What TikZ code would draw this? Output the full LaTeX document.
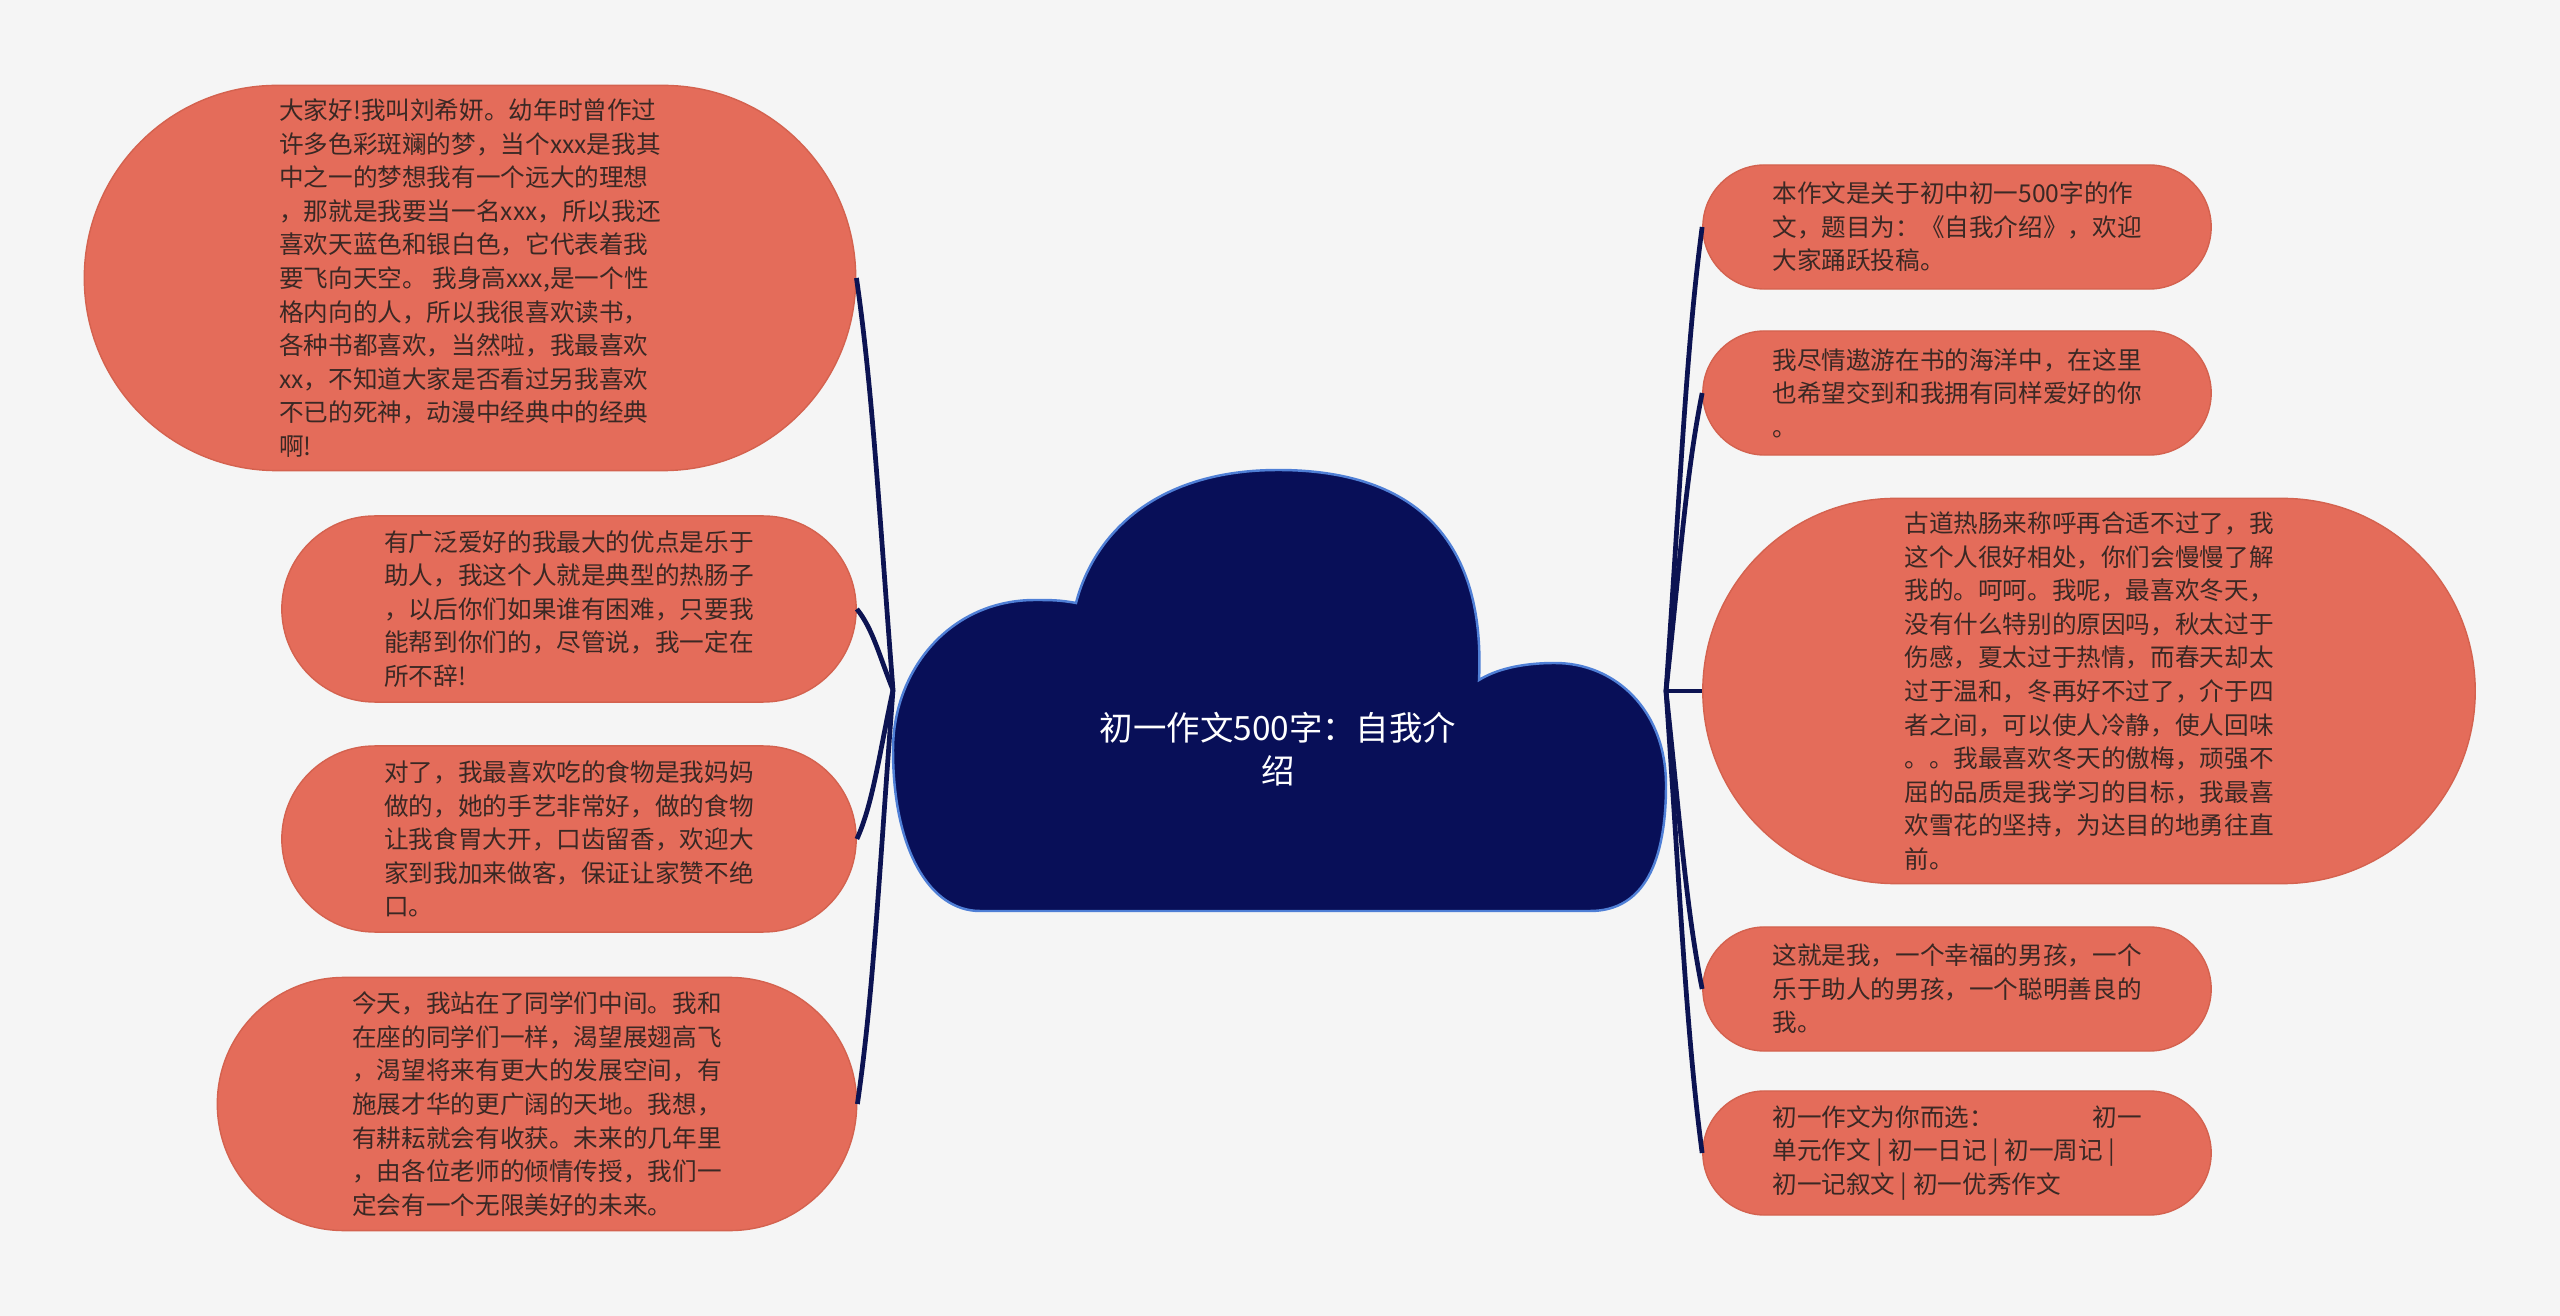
\documentclass[tikz,border=0pt]{standalone}
\usepackage{fontspec}
\usepackage{xcolor}
\usetikzlibrary{shapes.misc,calc}
\newfontfamily\cjkfont{Noto Sans CJK SC}
\definecolor{pagegrey}{HTML}{F5F5F5}
\definecolor{cloudnavy}{HTML}{080F58}
\definecolor{cloudrim}{HTML}{4F7FD6}
\definecolor{leafcoral}{HTML}{E46C5A}
\definecolor{leafrim}{HTML}{D4624F}
\definecolor{leafink}{HTML}{3A2824}
\definecolor{branchnavy}{HTML}{0C1352}
\tikzset{
  leaf/.style={rounded rectangle,fill=leafcoral,draw=leafrim,line width=0.4pt,
    inner sep=0pt,align=left,text=leafink,font=\cjkfont\fontsize{7}{9.55}\selectfont},
  branch/.style={branchnavy,line width=1.35pt},
}

\begin{document}
\begin{tikzpicture}[x=0.01cm,y=-0.01cm]
\useasboundingbox (0,0) rectangle (2560,1316);
\fill[pagegrey] (0,0) rectangle (2560,1316);

% centre cloud
\draw[cloudrim,fill=cloudnavy,line width=0.7pt] (980,911) -- (1590,911)
  .. controls (1645,911) and (1666,860) .. (1666,785)
  .. controls (1666,710) and (1615,663) .. (1555,663)
  .. controls (1520,663) and (1495,670) .. (1479,680)
  .. controls (1485,555) and (1430,470) .. (1278,470)
  .. controls (1160,470) and (1095,530) .. (1076,603)
  .. controls (1060,600) and (1050,600) .. (1035,600)
  .. controls (950,600) and (893,670) .. (893,750)
  .. controls (893,850) and (930,911) .. (980,911) -- cycle;
\node[text=white,align=center,font=\cjkfont\fontsize{9.5}{12.3}\selectfont] (root) at (1278,749) {初一作文500字：自我介\\绍};
\coordinate (jl) at (893,690);
\coordinate (jr) at (1666,691);

% left side
\node[leaf,minimum width=7.71cm,minimum height=3.85cm] (l1) at (470,278) {大家好!我叫刘希妍。幼年时曾作过\\许多色彩斑斓的梦，当个xxx是我其\\中之一的梦想我有一个远大的理想\\，那就是我要当一名xxx，所以我还\\喜欢天蓝色和银白色，它代表着我\\要飞向天空。 我身高xxx,是一个性\\格内向的人，所以我很喜欢读书，\\各种书都喜欢，当然啦，我最喜欢\\xx，不知道大家是否看过另我喜欢\\不已的死神，动漫中经典中的经典\\啊!};
\node[leaf,minimum width=5.74cm,minimum height=1.86cm] (l2) at (569,609) {有广泛爱好的我最大的优点是乐于\\助人，我这个人就是典型的热肠子\\，以后你们如果谁有困难，只要我\\能帮到你们的，尽管说，我一定在\\所不辞!};
\node[leaf,minimum width=5.74cm,minimum height=1.86cm] (l3) at (569,839) {对了，我最喜欢吃的食物是我妈妈\\做的，她的手艺非常好，做的食物\\让我食胃大开，口齿留香，欢迎大\\家到我加来做客，保证让家赞不绝\\口。};
\node[leaf,minimum width=6.39cm,minimum height=2.53cm] (l4) at (537,1104) {今天，我站在了同学们中间。我和\\在座的同学们一样，渴望展翅高飞\\，渴望将来有更大的发展空间，有\\施展才华的更广阔的天地。我想，\\有耕耘就会有收获。未来的几年里\\，由各位老师的倾情传授，我们一\\定会有一个无限美好的未来。};

% right side
\node[leaf,minimum width=5.08cm,minimum height=1.24cm] (r1) at (1957,227) {本作文是关于初中初一500字的作\\文，题目为：《自我介绍》，欢迎\\大家踊跃投稿。};
\node[leaf,minimum width=5.08cm,minimum height=1.24cm] (r2) at (1957,393) {我尽情遨游在书的海洋中，在这里\\也希望交到和我拥有同样爱好的你\\。};
\node[leaf,minimum width=7.72cm,minimum height=3.85cm] (r3) at (2089,691) {古道热肠来称呼再合适不过了，我\\这个人很好相处，你们会慢慢了解\\我的。呵呵。我呢，最喜欢冬天，\\没有什么特别的原因吗，秋太过于\\伤感，夏太过于热情，而春天却太\\过于温和，冬再好不过了，介于四\\者之间，可以使人冷静，使人回味\\。。我最喜欢冬天的傲梅，顽强不\\屈的品质是我学习的目标，我最喜\\欢雪花的坚持，为达目的地勇往直\\前。};
\node[leaf,minimum width=5.08cm,minimum height=1.24cm] (r4) at (1957,989) {这就是我，一个幸福的男孩，一个\\乐于助人的男孩，一个聪明善良的\\我。};
\node[leaf,minimum width=5.08cm,minimum height=1.24cm] (r5) at (1957,1153) {初一作文为你而选：\hspace{4em}初一\\单元作文 | 初一日记 | 初一周记 |\\初一记叙文 | 初一优秀作文};

\foreach \n/\a/\b in {l1/-180/110,l2/-35/20,l3/65/-35,l4/185/-110}
  \draw[branch] (jl) .. controls +(-14,\a) and +(16,\b) .. (\n.east);
\foreach \n/\a/\b in {r1/-200/120,r2/-130/80,r4/130/-80,r5/200/-120}
  \draw[branch] (jr) .. controls +(14,\a) and +(-16,\b) .. (\n.west);
\draw[branch] (jr) -- (r3.west);
\end{tikzpicture}
\end{document}
